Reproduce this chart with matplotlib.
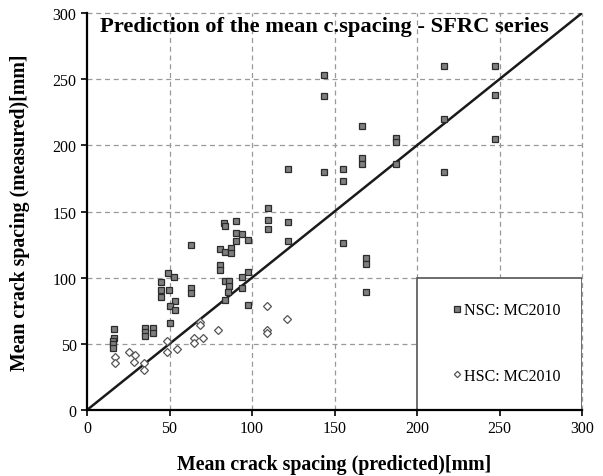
import matplotlib
matplotlib.use("Agg")
import matplotlib.pyplot as plt
from matplotlib.patches import Rectangle
from matplotlib.lines import Line2D

plt.rcParams['font.family'] = ['Liberation Serif', 'DejaVu Serif']

# NSC: MC2010 (predicted, measured)
nsc_pred = [16.6, 16.6, 16.0, 16.0, 16.0,
            35.0, 35.0, 35.0, 40.2, 40.2,
            45.0, 45.0, 45.0, 49.0, 53.0, 49.5, 53.3, 50.0, 53.3, 50.0,
            63.0, 63.0, 63.0,
            80.8, 80.8, 80.8, 83.2, 83.6, 83.4, 87.0, 87.0, 90.3, 90.3, 93.7, 90.3,
            97.8, 97.8, 93.7, 83.6, 86.2, 86.2, 93.7, 85.2, 83.6, 97.8,
            109.7, 109.7, 109.7, 121.8, 121.8, 121.8,
            143.6, 143.6, 143.6, 154.9, 154.9, 154.9,
            166.9, 166.9, 166.9, 168.9, 168.9, 168.9,
            187.5, 187.5, 187.5,
            216.4, 216.4, 216.4,
            247.3, 247.3, 247.3]
nsc_meas = [61.5, 54.7, 52.0, 49.5, 46.6,
            61.7, 58.7, 55.7, 61.7, 58.3,
            96.5, 90.5, 85.6, 103.5, 100.8, 91.0, 82.4, 78.6, 75.6, 65.5,
            125.0, 92.0, 88.5,
            121.7, 109.8, 105.6, 141.0, 139.0, 119.2, 122.7, 118.7, 142.8, 133.8, 132.8, 127.7,
            128.7, 104.5, 100.8, 97.3, 97.3, 93.5, 92.4, 88.9, 83.4, 79.6,
            152.7, 143.8, 136.8, 182.0, 141.8, 127.7,
            253.2, 237.0, 180.0, 182.0, 172.8, 126.0,
            214.9, 190.5, 186.0, 114.7, 110.5, 89.0,
            205.4, 202.3, 186.0,
            260.2, 220.2, 180.0,
            260.2, 238.3, 204.9]

# HSC: MC2010 (predicted, measured)
hsc_pred = [17.0, 17.0, 25.6, 29.0, 28.7, 34.7, 34.7,
            48.3, 48.3, 54.7, 64.8, 64.8, 68.2, 68.5, 70.6, 79.1,
            108.9, 108.9, 108.9, 121.0]
hsc_meas = [39.8, 35.3, 44.0, 41.6, 36.5, 35.3, 30.3,
            52.2, 43.6, 46.0, 54.4, 50.3, 66.5, 64.2, 54.4, 60.4,
            78.3, 60.7, 58.5, 68.5]

ticks = [0, 50, 100, 150, 200, 250, 300]

fig = plt.figure(figsize=(6.03, 4.77), dpi=100)
ax = fig.add_axes([87/603, 1-411/477, 495/603, 397/477])
ax.set_xlim(0, 300)
ax.set_ylim(0, 300)
ax.set_xticks(ticks)
ax.set_yticks(ticks)
ax.tick_params(labelsize=11.5, direction='out', length=4, width=1.2, colors='black')

for v in ticks[1:]:
    ax.axhline(v, color='#999999', lw=0.9, ls=(0, (4, 3)), zorder=1, clip_on=False)
    ax.axvline(v, color='#999999', lw=0.9, ls=(0, (4, 3)), zorder=1, clip_on=False)

for s in ['top', 'right']:
    ax.spines[s].set_visible(False)
for s in ['left', 'bottom']:
    ax.spines[s].set_linewidth(1.6)
    ax.spines[s].set_zorder(6)

# legend box
ax.add_patch(Rectangle((200, 0), 100, 100, facecolor='white', edgecolor='#555555',
                       lw=1.2, zorder=2))

ax.plot([0, 300], [0, 300], color='#1a1a1a', lw=1.8, zorder=3)

ax.plot(nsc_pred, nsc_meas, ls='none', marker='s', ms=4.2, mfc='#7f7f7f',
        mec='#2b2b2b', mew=0.9, zorder=4, clip_on=False)
ax.plot(hsc_pred, hsc_meas, ls='none', marker='D', ms=3.6, mfc='white',
        mec='#555555', mew=0.9, zorder=4, clip_on=False)

handles = [Line2D([], [], ls='none', marker='s', ms=3.8, mfc='#7f7f7f', mec='#2b2b2b', mew=0.9),
           Line2D([], [], ls='none', marker='D', ms=3.2, mfc='white', mec='#555555', mew=0.9)]
leg = ax.legend(handles, ['NSC: MC2010', 'HSC: MC2010'], frameon=False, fontsize=11.5,
                loc='center left', bbox_to_anchor=(216.5, 50.5), bbox_transform=ax.transData,
                handlelength=0.6, handletextpad=0.15, labelspacing=3.1, borderpad=0)
leg.set_zorder(7)

ax.text(8, 290, 'Prediction of the mean c.spacing - SFRC series', fontsize=16.2,
        fontweight='bold', ha='left', va='center', zorder=5)

ax.set_xlabel('Mean crack spacing (predicted)[mm]', fontsize=14.3, fontweight='bold', labelpad=13)
ax.set_ylabel('Mean crack spacing (measured)[mm]', fontsize=14.3, fontweight='bold', labelpad=16)

fig.savefig('out.png', dpi=100)
